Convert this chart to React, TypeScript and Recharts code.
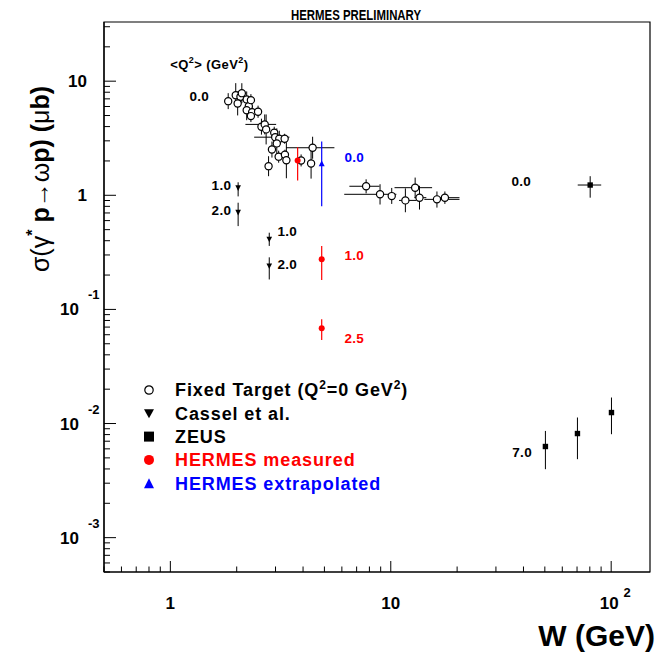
import React from 'react';
import { ScatterChart, Scatter, XAxis, YAxis, ErrorBar, Legend, Customized, ReferenceArea } from 'recharts';

// ---------- Fixed target (Q^2 = 0) ----------
const fixedW = [1.83, 1.98, 2.08, 2.11, 2.02, 2.22, 2.27, 2.32, 2.22, 2.35, 2.5, 2.32, 2.59, 2.68, 2.72, 2.96, 2.99, 3.12, 3.3, 3.04, 2.89, 3.1, 3.31, 3.36, 2.79, 4.42, 3.92, 4.35, 7.73, 8.94, 10.1, 11.65, 12.9, 13.5, 16.2, 17.6];
const fixedSigma = [6.68, 7.54, 7.3, 7.85, 6.38, 6.92, 6.04, 6.82, 5.57, 5.35, 5.4, 4.94, 3.99, 4.18, 3.78, 3.53, 3.23, 3.13, 3.13, 2.85, 2.52, 2.18, 2.27, 2.03, 1.8, 2.61, 2.02, 1.9, 1.2, 1.02, 0.984, 0.902, 1.166, 0.953, 0.921, 0.953];
const fixedSigmaLo = [5.69, 5.92, 6.47, 6.42, 5.01, 5.89, 5.14, 6.04, 4.55, 4.74, 4.78, 4.38, 3.4, 3.42, 2.79, 3.13, 2.75, 2.66, 2.83, 2.11, 2.14, 1.93, 2.05, 1.41, 1.47, 2.09, 1.79, 1.4, 1.04, 0.83, 0.84, 0.71, 0.95, 0.75, 0.78, 0.84];
const fixedSigmaHi = [7.85, 9.61, 8.24, 9.6, 8.13, 8.13, 7.1, 7.7, 6.81, 6.04, 6.1, 5.58, 4.69, 5.11, 5.11, 3.99, 3.8, 3.68, 3.46, 3.86, 2.96, 2.46, 2.51, 2.92, 2.2, 3.26, 2.28, 2.57, 1.38, 1.25, 1.16, 1.15, 1.43, 1.21, 1.08, 1.08];
const fixedWLo = [1.83, 1.98, 2.08, 2.11, 2.02, 2.22, 2.27, 2.32, 2.22, 2.35, 2.5, 2.32, 2.59, 2.19, 2.72, 2.96, 2.4, 3.12, 3.3, 3.04, 2.89, 3.1, 3.31, 3.36, 2.79, 3.35, 3.92, 4.35, 6.49, 6.15, 10.1, 10.9, 10.4, 12.8, 14.2, 16.6];
const fixedWHi = [1.83, 1.98, 2.08, 2.11, 2.02, 2.22, 2.27, 2.32, 2.22, 2.35, 2.5, 2.32, 2.59, 3.02, 2.72, 2.96, 3.47, 3.12, 3.3, 3.04, 2.89, 3.1, 3.31, 3.36, 2.79, 5.55, 3.92, 4.35, 8.89, 10.6, 10.1, 13.1, 15.4, 14.5, 20.5, 20.5];

// ---------- Cassel et al. ----------
const casselW = [2.03, 2.03, 2.81, 2.81];
const casselSigma = [1.16, 0.708, 0.411, 0.24];
const casselSigmaLo = [0.978, 0.537, 0.36, 0.183];
const casselSigmaHi = [1.3, 0.861, 0.47, 0.286];

// ---------- ZEUS ----------
const zeusW = [80.3, 50.3, 70.3, 100.3];
const zeusSigma = [1.23, 0.00629, 0.00817, 0.01248];
const zeusSigmaLo = [0.953, 0.00398, 0.00487, 0.00806];
const zeusSigmaHi = [1.47, 0.00861, 0.01129, 0.0169];
const zeusWLo = [70.5, 50.3, 70.3, 100.3];
const zeusWHi = [90.1, 50.3, 70.3, 100.3];

// ---------- HERMES ----------
const hermesMeasW = [3.78, 4.86, 4.86];
const hermesMeasSigma = [2.02, 0.275, 0.0683];
const hermesMeasLo = [1.35, 0.181, 0.054];
const hermesMeasHi = [2.63, 0.359, 0.0819];

const hermesExtW = [4.86];
const hermesExtSigma = [1.89];
const hermesExtLo = [0.8];
const hermesExtHi = [2.96];

// ---------- <Q^2> annotations ----------
const q2HeaderPos = [{ x: 1.0, y: 14.0 }];
const blackLabelsEnd = [
  { x: 1.5, y: 7.44, t: '0.0' },
  { x: 1.89, y: 1.22, t: '1.0' },
  { x: 1.89, y: 0.738, t: '2.0' },
];
const blackLabelsStart = [
  { x: 3.06, y: 0.483, t: '1.0' },
  { x: 3.06, y: 0.248, t: '2.0' },
  { x: 35.3, y: 1.32, t: '0.0' },
  { x: 35.6, y: 0.00562, t: '7.0' },
];
const blueLabels = [{ x: 6.16, y: 2.15, t: '0.0' }];
const redLabels = [
  { x: 6.16, y: 0.298, t: '1.0' },
  { x: 6.16, y: 0.0558, t: '2.5' },
];

// ---------- Axis ticks ----------
const xTicks = [0.5, 0.6, 0.7, 0.8, 0.9, 1, 2, 3, 4, 5, 6, 7, 8, 9, 10, 20, 30, 40, 50, 60, 70, 80, 90, 100];
const yTicks = [
  0.0005, 0.0006, 0.0007, 0.0008, 0.0009,
  0.001, 0.002, 0.003, 0.004, 0.005, 0.006, 0.007, 0.008, 0.009,
  0.01, 0.02, 0.03, 0.04, 0.05, 0.06, 0.07, 0.08, 0.09,
  0.1, 0.2, 0.3, 0.4, 0.5, 0.6, 0.7, 0.8, 0.9,
  1, 2, 3, 4, 5, 6, 7, 8, 9,
  10, 20, 30,
];

const FONT = '"Liberation Sans", Arial, Helvetica, sans-serif';

const mk = (w: number[], s: number[], lo: number[], hi: number[], wlo?: number[], whi?: number[]) =>
  w.map((x, i) => ({
    x,
    y: s[i],
    ey: [s[i] - lo[i], hi[i] - s[i]],
    ex: wlo && whi ? [x - wlo[i], whi[i] - x] : [0, 0],
  }));

const fixedData = mk(fixedW, fixedSigma, fixedSigmaLo, fixedSigmaHi, fixedWLo, fixedWHi);
const casselData = mk(casselW, casselSigma, casselSigmaLo, casselSigmaHi);
const zeusData = mk(zeusW, zeusSigma, zeusSigmaLo, zeusSigmaHi, zeusWLo, zeusWHi);
const hermesMeasData = mk(hermesMeasW, hermesMeasSigma, hermesMeasLo, hermesMeasHi);
const hermesExtData = mk(hermesExtW, hermesExtSigma, hermesExtLo, hermesExtHi);

const isMajor = (v: number) => Math.abs(Math.log10(v) - Math.round(Math.log10(v))) < 1e-6;

const OpenCircle = (p: any) => (
  <circle cx={p.cx} cy={p.cy} r={3.6} fill="#fff" stroke="#000" strokeWidth={1.2} />
);
const DownTri = (p: any) => (
  <path d={`M${p.cx - 2.8},${p.cy - 2.6}L${p.cx + 2.8},${p.cy - 2.6}L${p.cx},${p.cy + 3}Z`} fill="#000" />
);
const Square = (p: any) => <rect x={p.cx - 2.7} y={p.cy - 2.7} width={5.4} height={5.4} fill="#000" />;
const RedDot = (p: any) => <circle cx={p.cx} cy={p.cy} r={3} fill="#f00" />;
const BlueTri = (p: any) => (
  <path d={`M${p.cx - 3},${p.cy + 2.6}L${p.cx + 3},${p.cy + 2.6}L${p.cx},${p.cy - 3.2}Z`} fill="#00f" />
);

const makeLabel = (color: string, anchor: 'start' | 'end') => (p: any) => (
  <text
    x={p.cx}
    y={p.cy}
    dy="0.36em"
    textAnchor={anchor}
    fill={color}
    fontFamily={FONT}
    fontWeight="bold"
    fontSize={13.5}
    letterSpacing={0.3}
  >
    {p.payload.t}
  </text>
);

const Q2Header = (p: any) => (
  <text x={p.cx} y={p.cy} dy="0.36em" fontFamily={FONT} fontWeight="bold" fontSize={13} letterSpacing={0.4} fill="#000">
    {'<Q'}
    <tspan dy={-6} fontSize={9}>2</tspan>
    <tspan dy={6}>{'> (GeV'}</tspan>
    <tspan dy={-6} fontSize={9}>2</tspan>
    <tspan dy={6}>)</tspan>
  </text>
);

const XTick = (props: any) => {
  const { x, y, payload } = props;
  const v = payload.value;
  const major = isMajor(v);
  const e = Math.round(Math.log10(v));
  return (
    <g>
      <line x1={x} x2={x} y1={y} y2={y - (major ? 11 : 5.5)} stroke="#000" strokeWidth={1} />
      {major && e < 2 && (
        <text x={x} y={y + 37} textAnchor="middle" fontFamily={FONT} fontWeight="bold" fontSize={17} fill="#000">
          {e === 0 ? '1' : '10'}
        </text>
      )}
      {major && e >= 2 && (
        <g>
          <text x={x - 2} y={y + 37} textAnchor="middle" fontFamily={FONT} fontWeight="bold" fontSize={17} fill="#000">
            10
          </text>
          <text x={x + 16} y={y + 25} textAnchor="middle" fontFamily={FONT} fontWeight="bold" fontSize={13} fill="#000">
            {String(e)}
          </text>
        </g>
      )}
    </g>
  );
};

const YTick = (props: any) => {
  const { x, y, payload } = props;
  const v = payload.value;
  const major = isMajor(v);
  const e = Math.round(Math.log10(v));
  return (
    <g>
      <line x1={x} x2={x + (major ? 12 : 6)} y1={y} y2={y} stroke="#000" strokeWidth={1} />
      {major && e >= 0 && (
        <text x={x - 17} y={y + 6} textAnchor="end" fontFamily={FONT} fontWeight="bold" fontSize={17} fill="#000">
          {e === 0 ? '1' : '10'}
        </text>
      )}
      {major && e < 0 && (
        <g>
          <text x={x - 25} y={y + 6} textAnchor="end" fontFamily={FONT} fontWeight="bold" fontSize={17} fill="#000">
            10
          </text>
          <text x={x - 16} y={y - 10} textAnchor="start" fontFamily={FONT} fontWeight="bold" fontSize={13} fill="#000">
            {String(e)}
          </text>
        </g>
      )}
    </g>
  );
};

const YTickRight = (props: any) => {
  const { x, y, payload } = props;
  const major = isMajor(payload.value);
  return <line x1={x} x2={x - (major ? 12 : 6)} y1={y} y2={y} stroke="#000" strokeWidth={1} />;
};

const legendFont = { fontFamily: FONT, fontWeight: 'bold' as const, fontSize: 18, letterSpacing: 0.9 };

const LegendBox = () => {
  const rows = [0, 1, 2, 3, 4].map((i) => 12 + i * 23.3);
  return (
    <svg width={320} height={122} style={{ display: 'block' }}>
      <circle cx={9} cy={rows[0]} r={4.2} fill="#fff" stroke="#000" strokeWidth={1.2} />
      <text x={35} y={rows[0]} dy="0.36em" fill="#000" {...legendFont}>
        Fixed Target (Q<tspan dy={-7} fontSize={12}>2</tspan>
        <tspan dy={7}>=0 GeV</tspan>
        <tspan dy={-7} fontSize={12}>2</tspan>
        <tspan dy={7}>)</tspan>
      </text>
      <path d={`M${4},${rows[1] - 4}L${14},${rows[1] - 4}L${9},${rows[1] + 5}Z`} fill="#000" />
      <text x={35} y={rows[1]} dy="0.36em" fill="#000" {...legendFont}>Cassel et al.</text>
      <rect x={4} y={rows[2] - 5} width={10} height={10} fill="#000" />
      <text x={35} y={rows[2]} dy="0.36em" fill="#000" {...legendFont}>ZEUS</text>
      <circle cx={9} cy={rows[3]} r={5} fill="#f00" />
      <text x={35} y={rows[3]} dy="0.36em" fill="#f00" {...legendFont}>HERMES measured</text>
      <path d={`M${4},${rows[4] + 5}L${14},${rows[4] + 5}L${9},${rows[4] - 5}Z`} fill="#00f" />
      <text x={35} y={rows[4]} dy="0.36em" fill="#00f" {...legendFont}>HERMES extrapolated</text>
    </svg>
  );
};

const Decorations = () => (
  <g>
    <text
      x={356}
      y={20}
      textAnchor="middle"
      fontFamily={FONT}
      fontWeight="bold"
      fontSize={15}
      textLength={130}
      lengthAdjust="spacingAndGlyphs"
      fill="#000"
    >
      HERMES PRELIMINARY
    </text>
    <text x={655} y={646} textAnchor="end" fontFamily={FONT} fontWeight="bold" fontSize={30} fill="#000">
      W (GeV)
    </text>
    <text
      transform="translate(49,179) rotate(-90)"
      textAnchor="middle"
      fontFamily={FONT}
      fontWeight="bold"
      fontSize={25}
      fill="#000"
    >
      <tspan fontWeight="normal">σ(γ</tspan>
      <tspan dy={-11} fontSize={16}>*</tspan>
      <tspan dy={11}> p</tspan>
      <tspan fontWeight="normal">→ω</tspan>
      <tspan>p) (</tspan>
      <tspan fontWeight="normal">μ</tspan>
      <tspan>b)</tspan>
    </text>
  </g>
);

export default function App() {
  return (
    <div style={{ position: 'absolute', left: 0, top: 0, width: 666, height: 653, background: '#fff' }}>
      <ScatterChart width={666} height={653} margin={{ top: 22, right: 16, bottom: 0, left: 0 }}>
        <XAxis
          type="number"
          dataKey="x"
          scale="log"
          domain={[0.5, 150]}
          allowDataOverflow
          ticks={xTicks}
          interval={0}
          height={81}
          tickSize={0}
          tickMargin={0}
          tickLine={false}
          axisLine={{ stroke: '#000', strokeWidth: 1.2 }}
          tick={<XTick />}
        />
        <YAxis
          type="number"
          dataKey="y"
          scale="log"
          domain={[0.0005, 33]}
          allowDataOverflow
          ticks={yTicks}
          interval={0}
          width={104}
          tickSize={0}
          tickMargin={0}
          tickLine={false}
          axisLine={{ stroke: '#000', strokeWidth: 1.2 }}
          tick={<YTick />}
        />
        <YAxis
          yAxisId="r"
          orientation="right"
          type="number"
          dataKey="y"
          scale="log"
          domain={[0.0005, 33]}
          allowDataOverflow
          ticks={yTicks}
          interval={0}
          width={0}
          tickSize={0}
          tickMargin={0}
          tickLine={false}
          axisLine={{ stroke: '#000', strokeWidth: 1.2 }}
          tick={<YTickRight />}
        />
        <ReferenceArea x1={0.5} x2={150} y1={0.0005} y2={33} fill="none" stroke="#000" strokeWidth={1.2} />

        <Scatter data={fixedData} shape={OpenCircle} isAnimationActive={false} legendType="none">
          <ErrorBar dataKey="ey" direction="y" width={0} stroke="#000" strokeWidth={1} />
          <ErrorBar dataKey="ex" direction="x" width={0} stroke="#000" strokeWidth={1} />
        </Scatter>
        <Scatter data={casselData} shape={DownTri} isAnimationActive={false} legendType="none">
          <ErrorBar dataKey="ey" direction="y" width={0} stroke="#000" strokeWidth={1} />
        </Scatter>
        <Scatter data={zeusData} shape={Square} isAnimationActive={false} legendType="none">
          <ErrorBar dataKey="ey" direction="y" width={0} stroke="#000" strokeWidth={1} />
          <ErrorBar dataKey="ex" direction="x" width={0} stroke="#000" strokeWidth={1} />
        </Scatter>
        <Scatter data={hermesMeasData} shape={RedDot} isAnimationActive={false} legendType="none">
          <ErrorBar dataKey="ey" direction="y" width={0} stroke="#f00" strokeWidth={1.2} />
        </Scatter>
        <Scatter data={hermesExtData} shape={BlueTri} isAnimationActive={false} legendType="none">
          <ErrorBar dataKey="ey" direction="y" width={0} stroke="#00f" strokeWidth={1.2} />
        </Scatter>

        <Scatter data={q2HeaderPos} shape={Q2Header} isAnimationActive={false} legendType="none" />
        <Scatter data={blackLabelsEnd} shape={makeLabel('#000', 'end')} isAnimationActive={false} legendType="none" />
        <Scatter data={blackLabelsStart} shape={makeLabel('#000', 'start')} isAnimationActive={false} legendType="none" />
        <Scatter data={blueLabels} shape={makeLabel('#00f', 'start')} isAnimationActive={false} legendType="none" />
        <Scatter data={redLabels} shape={makeLabel('#f00', 'start')} isAnimationActive={false} legendType="none" />

        <Legend
          layout="vertical"
          align="center"
          verticalAlign="middle"
          wrapperStyle={{ position: 'absolute', left: 140, top: 378, width: 320, height: 122 }}
          content={() => <LegendBox />}
        />
        <Customized component={Decorations} />
      </ScatterChart>
    </div>
  );
}
